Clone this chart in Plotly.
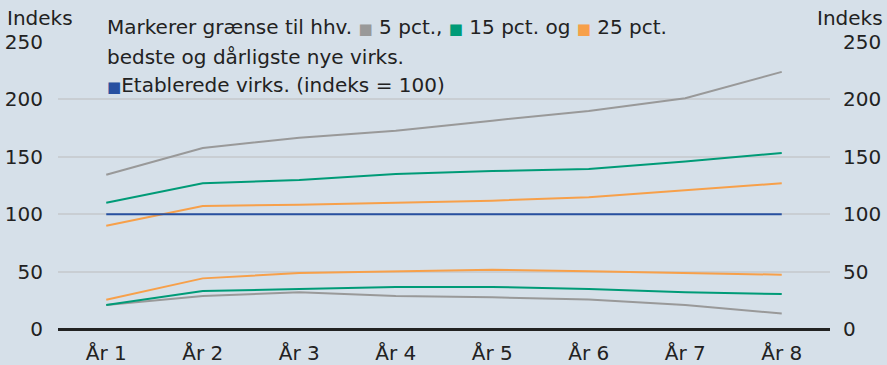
import plotly.graph_objects as go

categories = ["År 1", "År 2", "År 3", "År 4", "År 5", "År 6", "År 7", "År 8"]
gray_top = [134.4, 157.7, 166.6, 172.7, 181.5, 189.9, 201.0, 224.0]
green_top = [110.0, 126.9, 129.8, 135.0, 137.6, 139.4, 145.8, 153.3]
orange_top = [90.0, 107.1, 108.3, 110.0, 111.8, 114.7, 121.0, 127.0]
established = [100, 100, 100, 100, 100, 100, 100, 100]
orange_bot = [25.5, 44.1, 48.8, 50.5, 51.7, 50.2, 49.0, 47.3]
green_bot = [20.9, 33.1, 34.8, 36.6, 36.6, 34.8, 32.0, 30.5]
gray_bot = [20.9, 28.7, 32.0, 28.7, 27.6, 25.8, 20.9, 13.4]
y_ticks = [0, 50, 100, 150, 200, 250]

GRAY = "#999999"
GREEN = "#009b77"
ORANGE = "#f7a04a"
BLUE = "#2750a0"
BG = "#d6e0e9"
FONT = "DejaVu Sans"

fig = go.Figure()
series = [
    (gray_top, GRAY), (gray_bot, GRAY),
    (green_top, GREEN), (green_bot, GREEN),
    (orange_top, ORANGE), (orange_bot, ORANGE),
    (established, BLUE),
]
for vals, col in series:
    fig.add_trace(go.Scatter(x=categories, y=vals, mode="lines",
                             line=dict(color=col, width=2), showlegend=False,
                             hoverinfo="skip"))
# invisible trace to activate the right axis
fig.add_trace(go.Scatter(x=categories, y=established, yaxis="y2", mode="lines",
                         line=dict(width=0), showlegend=False, hoverinfo="skip"))

axis_font = dict(family=FONT, size=20, color="#222222")
fig.update_layout(
    width=887, height=365,
    margin=dict(l=58, r=57, t=42, b=36),
    paper_bgcolor=BG, plot_bgcolor=BG,
    font=axis_font,
    xaxis=dict(type="category", range=[-0.5, 7.5], showgrid=False,
               showline=False, zeroline=False, ticks="", tickfont=axis_font,
               ticklabelstandoff=10, automargin=False),
    yaxis=dict(range=[0, 250], tickvals=y_ticks, showgrid=True,
               gridcolor="#c9ced3", gridwidth=1.5, zeroline=True,
               zerolinecolor="#222222", zerolinewidth=2.5, ticks="",
               tickfont=axis_font, ticklabelstandoff=14, showline=False,
               automargin=False),
    yaxis2=dict(range=[0, 250], tickvals=y_ticks, overlaying="y", side="right",
                showgrid=False, zeroline=False, ticks="", tickfont=axis_font,
                ticklabelstandoff=12, showline=False, automargin=False),
)

def sq(col):
    return f'<span style="color:{col};font-size:15px">■</span>'

ann = [
    dict(x=0, y=1, xref="paper", yref="paper", xanchor="right", yanchor="middle",
         xshift=17, yshift=24, text="Indeks", showarrow=False),
    dict(x=1, y=1, xref="paper", yref="paper", xanchor="left", yanchor="middle",
         xshift=-15, yshift=24, text="Indeks", showarrow=False),
    dict(x=0, y=1, xref="paper", yref="paper", xanchor="left", yanchor="middle",
         xshift=47, yshift=15,
         text=f"Markerer grænse til hhv. {sq(GRAY)} 5 pct., {sq(GREEN)} 15 pct. og {sq(ORANGE)} 25 pct.",
         showarrow=False),
    dict(x=0, y=1, xref="paper", yref="paper", xanchor="left", yanchor="middle",
         xshift=47, yshift=-15, text="bedste og dårligste nye virks.", showarrow=False),
    dict(x=0, y=1, xref="paper", yref="paper", xanchor="left", yanchor="middle",
         xshift=47, yshift=-43, text=f"{sq(BLUE)}Etablerede virks. (indeks = 100)",
         showarrow=False),
]
fig.update_layout(annotations=ann)
fig.update_annotations(font=axis_font)

fig.write_html("out.html", config={"displayModeBar": False},
               post_script="document.body.style.margin='0px';")
